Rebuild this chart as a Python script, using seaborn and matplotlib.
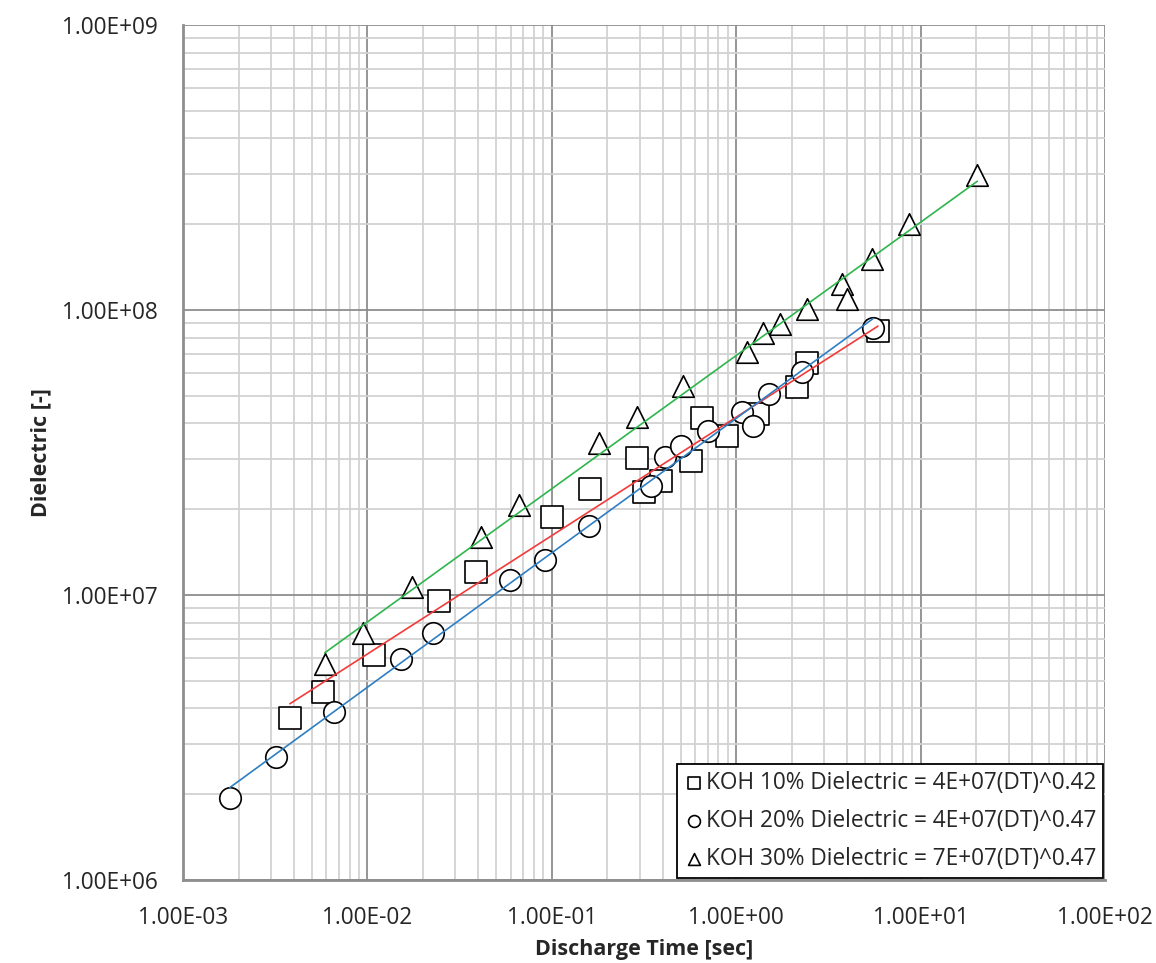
import numpy as np
import pandas as pd
import seaborn as sns
import matplotlib
matplotlib.use("Agg")
from matplotlib import pyplot as plt
from matplotlib.ticker import LogLocator, FixedLocator, NullFormatter

# KOH 10% (squares)
koh10_dt = [3.80e-3, 5.74e-3, 1.09e-2, 2.44e-2, 3.88e-2, 0.100, 0.161, 0.290, 0.316,
            0.391, 0.569, 0.653, 0.891, 1.31, 2.14, 2.42, 5.87]
koh10_de = [3.70e6, 4.57e6, 6.15e6, 9.5e6, 1.20e7, 1.88e7, 2.36e7, 3.03e7, 2.30e7,
            2.51e7, 2.95e7, 4.18e7, 3.61e7, 4.32e7, 5.37e7, 6.52e7, 8.44e7]

# KOH 20% (circles)
koh20_dt = [1.79e-3, 3.21e-3, 6.57e-3, 1.53e-2, 2.27e-2, 5.91e-2, 9.19e-2, 0.160, 0.345,
            0.411, 0.502, 0.700, 1.07, 1.23, 1.51, 2.28, 5.54]
koh20_de = [1.94e6, 2.70e6, 3.90e6, 5.97e6, 7.34e6, 1.13e7, 1.33e7, 1.75e7, 2.42e7,
            3.06e7, 3.34e7, 3.77e7, 4.40e7, 3.92e7, 5.07e7, 6.08e7, 8.63e7]

# KOH 30% (triangles)
koh30_dt = [5.87e-3, 9.46e-3, 1.75e-2, 4.12e-2, 6.64e-2, 0.180, 0.289, 0.517, 1.14,
            1.40, 1.73, 2.43, 3.76, 3.97, 5.47, 8.69, 20.3]
koh30_de = [5.73e6, 7.34e6, 1.07e7, 1.60e7, 2.07e7, 3.41e7, 4.22e7, 5.39e7, 7.14e7,
            8.32e7, 8.93e7, 1.01e8, 1.23e8, 1.09e8, 1.51e8, 2.00e8, 2.98e8]

labels = ["KOH 10% Dielectric = 4E+07(DT)^0.42",
          "KOH 20% Dielectric = 4E+07(DT)^0.47",
          "KOH 30% Dielectric = 7E+07(DT)^0.47"]
markers = ["s", "o", "^"]
line_colors = ["#f23a3a", "#2e7ec4", "#2fb54c"]

x_ticks = [1e-3, 1e-2, 1e-1, 1e0, 1e1, 1e2]
x_ticklabels = ["1.00E-03", "1.00E-02", "1.00E-01", "1.00E+00", "1.00E+01", "1.00E+02"]
y_ticks = [1e6, 1e7, 1e8, 1e9]
y_ticklabels = ["1.00E+06", "1.00E+07", "1.00E+08", "1.00E+09"]

sns.set_style("white")
plt.rcParams['font.family'] = ['Open Sans', 'DejaVu Sans']

fs = 16.3
fig = plt.figure(figsize=(11.56, 9.63), dpi=100)
ax = fig.add_axes([183 / 1156, 1 - 880 / 963, 922 / 1156, 855 / 963])

series = [(koh10_dt, koh10_de), (koh20_dt, koh20_de), (koh30_dt, koh30_de)]
for (dt, de), lab, mk, lc in zip(series, labels, markers, line_colors):
    df = pd.DataFrame({"dt": dt, "de": de})
    sns.scatterplot(data=df, x="dt", y="de", marker=mk, s=240, color="white",
                    edgecolor="black", linewidth=1.2, ax=ax, zorder=3, label=lab)
    # power-law trendline (least squares in log space), drawn over the markers
    b, a = np.polyfit(np.log10(dt), np.log10(de), 1)
    xs = np.array([min(dt), max(dt)])
    fit = pd.DataFrame({"dt": xs, "de": 10 ** a * xs ** b})
    sns.lineplot(data=fit, x="dt", y="de", color=lc, linewidth=1.2, ax=ax, zorder=4)

ax.set_xscale("log")
ax.set_yscale("log")
ax.set_xlim(1e-3, 1e2)
ax.set_ylim(1e6, 1e9)

ax.xaxis.set_major_locator(FixedLocator(x_ticks))
ax.yaxis.set_major_locator(FixedLocator(y_ticks))
ax.set_xticklabels(x_ticklabels)
ax.set_yticklabels(y_ticklabels)
ax.xaxis.set_minor_locator(LogLocator(base=10, subs=np.arange(2, 10), numticks=20))
ax.yaxis.set_minor_locator(LogLocator(base=10, subs=np.arange(2, 10), numticks=20))
ax.xaxis.set_minor_formatter(NullFormatter())
ax.yaxis.set_minor_formatter(NullFormatter())

ax.grid(True, which="minor", color="#d2d2d2", linewidth=1.3, zorder=0)
ax.grid(True, which="major", color="#8e8e8e", linewidth=1.3, zorder=1)
ax.set_axisbelow(True)
ax.tick_params(which="both", length=0, labelsize=fs, colors="#262626")
ax.tick_params(axis="x", pad=19)
ax.tick_params(axis="y", pad=18)

for side in ["top", "right"]:
    ax.spines[side].set_visible(False)
for side in ["left", "bottom"]:
    ax.spines[side].set_color("#8e8e8e")
    ax.spines[side].set_linewidth(2)

ax.set_xlabel("Discharge Time [sec]", fontsize=15.5, fontweight="bold", color="#262626", labelpad=6)
ax.set_ylabel("Dielectric [-]", fontsize=15.5, fontweight="bold", color="#262626", labelpad=8)

leg = ax.legend(loc="lower right", fontsize=fs, frameon=True, fancybox=False,
                edgecolor="black", framealpha=1, handletextpad=0.05, borderpad=0.3,
                labelspacing=0.62, handlelength=0.9, markerscale=0.55,
                borderaxespad=0.1)
leg.get_frame().set_linewidth(1.3)
for t in leg.get_texts():
    t.set_color("#262626")

fig.savefig("out.png", dpi=100)
